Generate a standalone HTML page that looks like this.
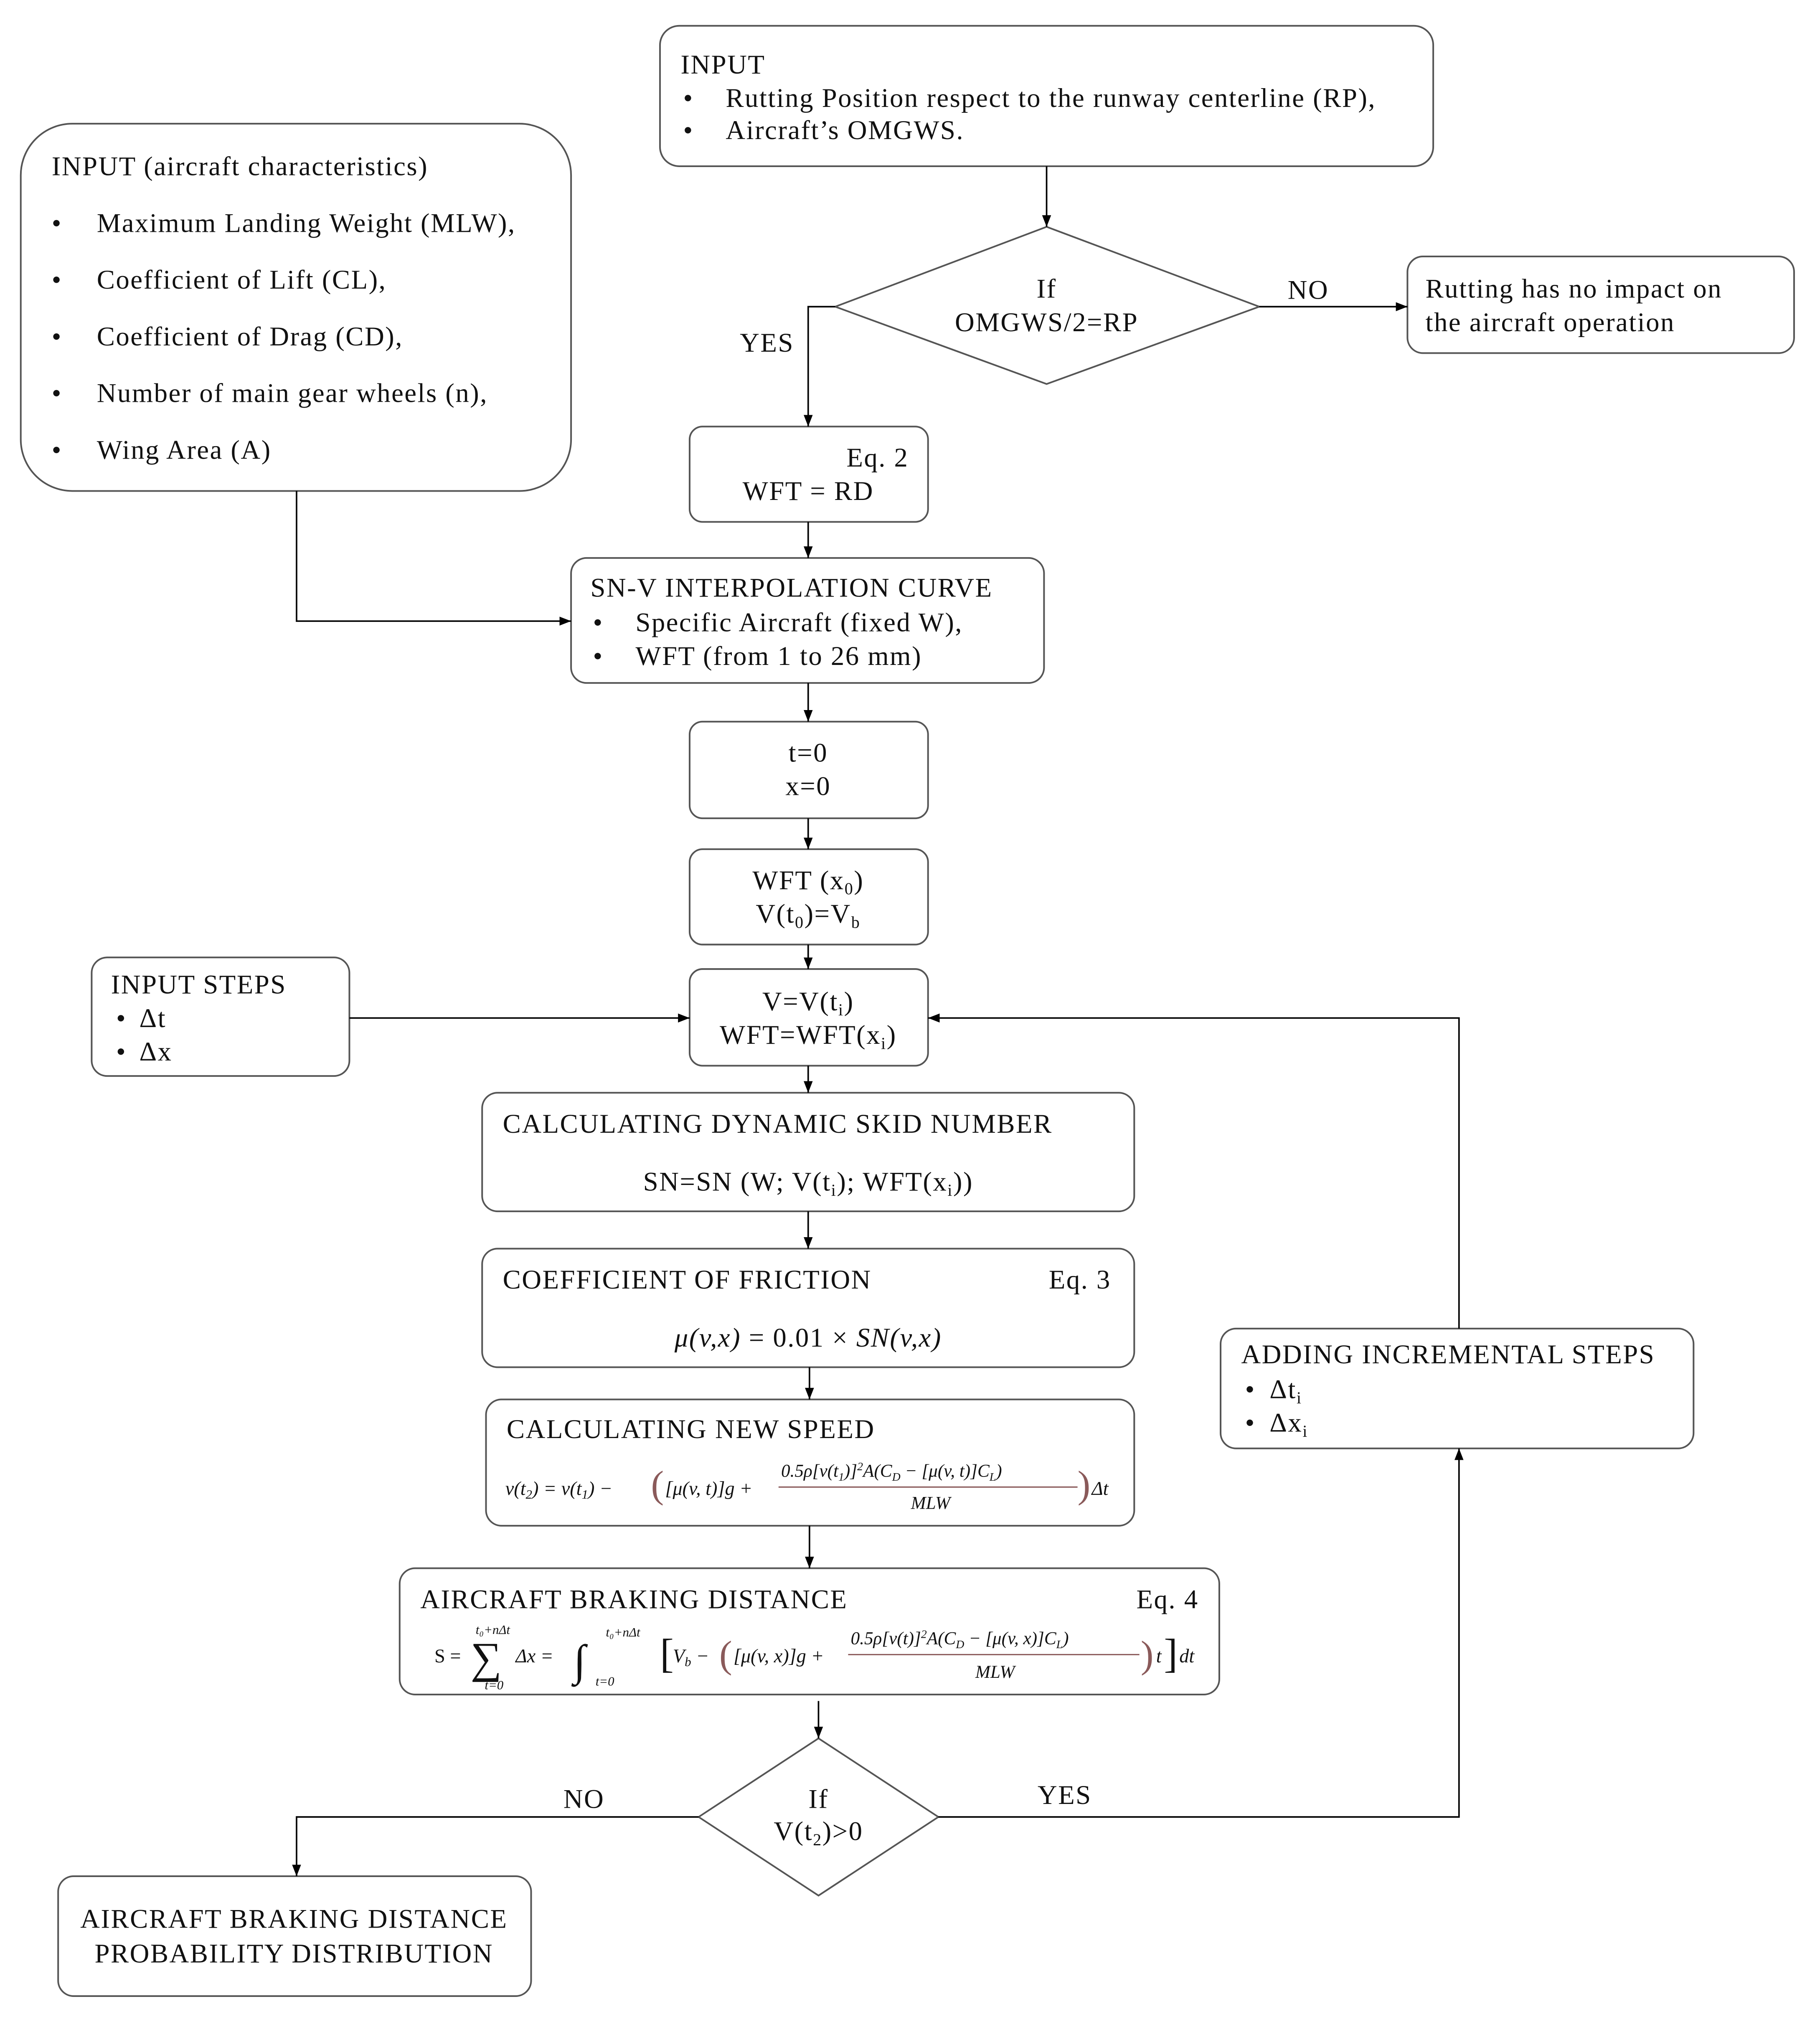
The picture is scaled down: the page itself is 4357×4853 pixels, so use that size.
<!DOCTYPE html>
<html><head><meta charset="utf-8"><style>html,body{margin:0;padding:0;background:#fff}svg{display:block}</style></head>
<body>
<svg xmlns="http://www.w3.org/2000/svg" width="4357" height="4853" viewBox="0 0 1412 1573">
<defs><marker id="a" markerWidth="10" markerHeight="10" refX="9" refY="5" orient="auto" markerUnits="userSpaceOnUse"><path d="M0,1.5 L9,5 L0,8.5 Z" fill="#000"/></marker></defs>
<rect width="1412" height="1573" fill="#fff"/>
<g fill="none" stroke="#555" stroke-width="1.3">
<rect x="512" y="20" width="600" height="109" rx="15"/>
<rect x="16" y="96" width="427" height="285" rx="40"/>
<path d="M648,238 L812,176 L977,238 L812,298 Z"/>
<rect x="1092" y="199" width="300" height="75" rx="12"/>
<rect x="535" y="331" width="185" height="74" rx="10"/>
<rect x="443" y="433" width="367" height="97" rx="12"/>
<rect x="535" y="560" width="185" height="75" rx="10"/>
<rect x="535" y="659" width="185" height="74" rx="10"/>
<rect x="535" y="752" width="185" height="75" rx="10"/>
<rect x="71" y="743" width="200" height="92" rx="12"/>
<rect x="374" y="848" width="506" height="92" rx="12"/>
<rect x="374" y="969" width="506" height="92" rx="12"/>
<rect x="377" y="1086" width="503" height="98" rx="12"/>
<rect x="310" y="1217" width="636" height="98" rx="12"/>
<path d="M542,1410 L635,1349 L728,1410 L635,1471 Z"/>
<rect x="947" y="1031" width="367" height="93" rx="12"/>
<rect x="45" y="1456" width="367" height="93" rx="12"/>
</g>
<g fill="none" stroke="#000" stroke-width="1.2">
<path d="M812,129 V176" marker-end="url(#a)"/>
<path d="M977,238 H1092" marker-end="url(#a)"/>
<path d="M648,238 H627 V331" marker-end="url(#a)"/>
<path d="M627,405 V433" marker-end="url(#a)"/>
<path d="M230,381 V482 H443" marker-end="url(#a)"/>
<path d="M627,530 V560" marker-end="url(#a)"/>
<path d="M627,635 V659" marker-end="url(#a)"/>
<path d="M627,733 V752" marker-end="url(#a)"/>
<path d="M271,790 H535" marker-end="url(#a)"/>
<path d="M1132,1031 V790 H720" marker-end="url(#a)"/>
<path d="M627,827 V848" marker-end="url(#a)"/>
<path d="M627,940 V969" marker-end="url(#a)"/>
<path d="M628,1061 V1086" marker-end="url(#a)"/>
<path d="M628,1184 V1217" marker-end="url(#a)"/>
<path d="M635,1320 V1349" marker-end="url(#a)"/>
<path d="M542,1410 H230 V1456" marker-end="url(#a)"/>
<path d="M728,1410 H1132 V1124" marker-end="url(#a)"/>
</g>
<g font-family="Liberation Serif, serif" font-size="21" letter-spacing="0.8" fill="#111">
<text x="528" y="57">INPUT</text>
<text x="530" y="83">•</text><text x="563" y="83">Rutting Position respect to the runway centerline (RP),</text>
<text x="530" y="108">•</text><text x="563" y="108">Aircraft’s OMGWS.</text>
<text x="40" y="136">INPUT (aircraft characteristics)</text>
<text x="40" y="180">•</text><text x="75" y="180">Maximum Landing Weight (MLW),</text>
<text x="40" y="224">•</text><text x="75" y="224">Coefficient of Lift (CL),</text>
<text x="40" y="268">•</text><text x="75" y="268">Coefficient of Drag (CD),</text>
<text x="40" y="312">•</text><text x="75" y="312">Number of main gear wheels (n),</text>
<text x="40" y="356">•</text><text x="75" y="356">Wing Area (A)</text>
<text x="812" y="231" text-anchor="middle">If</text>
<text x="812" y="257" text-anchor="middle">OMGWS/2=RP</text>
<text x="1015" y="232" text-anchor="middle">NO</text>
<text x="595" y="273" text-anchor="middle">YES</text>
<text x="1106" y="231">Rutting has no impact on</text>
<text x="1106" y="257">the aircraft operation</text>
<text x="705" y="362" text-anchor="end">Eq. 2</text>
<text x="627" y="388" text-anchor="middle">WFT = RD</text>
<text x="458" y="463">SN-V INTERPOLATION CURVE</text>
<text x="460" y="490">•</text><text x="493" y="490">Specific Aircraft (fixed W),</text>
<text x="460" y="516">•</text><text x="493" y="516">WFT (from 1 to 26 mm)</text>
<text x="627" y="591" text-anchor="middle">t=0</text>
<text x="627" y="617" text-anchor="middle">x=0</text>
<text x="627" y="690" text-anchor="middle">WFT (x<tspan font-size="13" dy="4">0</tspan><tspan dy="-4">)</tspan></text>
<text x="627" y="716" text-anchor="middle">V(t<tspan font-size="13" dy="4">0</tspan><tspan dy="-4">)=V</tspan><tspan font-size="13" dy="4">b</tspan></text>
<text x="627" y="784" text-anchor="middle">V=V(t<tspan font-size="13" dy="4">i</tspan><tspan dy="-4">)</tspan></text>
<text x="627" y="810" text-anchor="middle">WFT=WFT(x<tspan font-size="13" dy="4">i</tspan><tspan dy="-4">)</tspan></text>
<text x="86" y="771">INPUT STEPS</text>
<text x="90" y="797">•</text><text x="108" y="797">Δt</text>
<text x="90" y="823">•</text><text x="108" y="823">Δx</text>
<text x="390" y="879">CALCULATING DYNAMIC SKID NUMBER</text>
<text x="627" y="924" text-anchor="middle">SN=SN (W; V(t<tspan font-size="13" dy="4">i</tspan><tspan dy="-4">); WFT(x</tspan><tspan font-size="13" dy="4">i</tspan><tspan dy="-4">))</tspan></text>
<text x="390" y="1000">COEFFICIENT OF FRICTION</text>
<text x="862" y="1000" text-anchor="end">Eq. 3</text>
<text x="627" y="1045" text-anchor="middle"><tspan font-style="italic">μ(v,x)</tspan> = 0.01 × <tspan font-style="italic">SN(v,x)</tspan></text>
<text x="393" y="1116">CALCULATING NEW SPEED</text>
<text x="326" y="1248">AIRCRAFT BRAKING DISTANCE</text>
<text x="930" y="1248" text-anchor="end">Eq. 4</text>
<text x="635" y="1403" text-anchor="middle">If</text>
<text x="635" y="1428" text-anchor="middle">V(t<tspan font-size="13" dy="4">2</tspan><tspan dy="-4">)&gt;0</tspan></text>
<text x="453" y="1403" text-anchor="middle">NO</text>
<text x="826" y="1400" text-anchor="middle">YES</text>
<text x="963" y="1058">ADDING INCREMENTAL STEPS</text>
<text x="966" y="1085">•</text><text x="985" y="1085">Δt<tspan font-size="13" dy="4">i</tspan></text>
<text x="966" y="1111">•</text><text x="985" y="1111">Δx<tspan font-size="13" dy="4">i</tspan></text>
<text x="228" y="1496" text-anchor="middle">AIRCRAFT BRAKING DISTANCE</text>
<text x="228" y="1523" text-anchor="middle">PROBABILITY DISTRIBUTION</text>
</g>
<g font-family="Liberation Serif, serif" font-size="15" fill="#111" font-style="italic">
<text x="392" y="1160">v(t<tspan font-size="10" dy="3">2</tspan><tspan dy="-3">) = v(t</tspan><tspan font-size="10" dy="3">1</tspan><tspan dy="-3">) − </tspan></text>
<text x="505" y="1162" font-size="30" font-style="normal" fill="#8a5a5a">(</text>
<text x="516" y="1160">[μ(v, t)]g +</text>
<text x="606" y="1146" font-size="14">0.5ρ[v(t<tspan font-size="9" dy="3">1</tspan><tspan dy="-3">)]</tspan><tspan font-size="9" dy="-5">2</tspan><tspan dy="5">A(C</tspan><tspan font-size="9" dy="3">D</tspan><tspan dy="-3"> − [μ(v, t)]C</tspan><tspan font-size="9" dy="3">L</tspan><tspan dy="-3">)</tspan></text>
<line x1="604" y1="1154" x2="836" y2="1154" stroke="#8a5a5a" stroke-width="1"/>
<text x="722" y="1171" text-anchor="middle" font-size="14">MLW</text>
<text x="836" y="1162" font-size="30" font-style="normal" fill="#8a5a5a">)</text>
<text x="847" y="1160">Δt</text>
<text x="337" y="1290" font-style="normal">S =</text>
<text x="365" y="1298" font-size="34" font-style="normal">∑</text>
<text x="369" y="1268" font-size="10">t₀+nΔt</text>
<text x="376" y="1311" font-size="10">t=0</text>
<text x="400" y="1290">Δx =</text>
<text x="445" y="1300" font-size="34" font-style="normal">∫</text>
<text x="470" y="1270" font-size="10">t₀+nΔt</text>
<text x="462" y="1308" font-size="10">t=0</text>
<text x="512" y="1294" font-size="32" font-style="normal">[</text>
<text x="522" y="1290">V<tspan font-size="10" dy="3">b</tspan><tspan dy="-3"> −</tspan></text>
<text x="558" y="1294" font-size="30" font-style="normal" fill="#8a5a5a">(</text>
<text x="569" y="1290">[μ(v, x)]g +</text>
<text x="660" y="1276" font-size="14">0.5ρ[v(t)]<tspan font-size="9" dy="-5">2</tspan><tspan dy="5">A(C</tspan><tspan font-size="9" dy="3">D</tspan><tspan dy="-3"> − [μ(v, x)]C</tspan><tspan font-size="9" dy="3">L</tspan><tspan dy="-3">)</tspan></text>
<line x1="658" y1="1284" x2="884" y2="1284" stroke="#8a5a5a" stroke-width="1"/>
<text x="772" y="1302" text-anchor="middle" font-size="14">MLW</text>
<text x="885" y="1294" font-size="30" font-style="normal" fill="#8a5a5a">)</text>
<text x="897" y="1290">t</text>
<text x="903" y="1294" font-size="32" font-style="normal">]</text>
<text x="915" y="1290">dt</text>
</g>
</svg>
</body></html>
